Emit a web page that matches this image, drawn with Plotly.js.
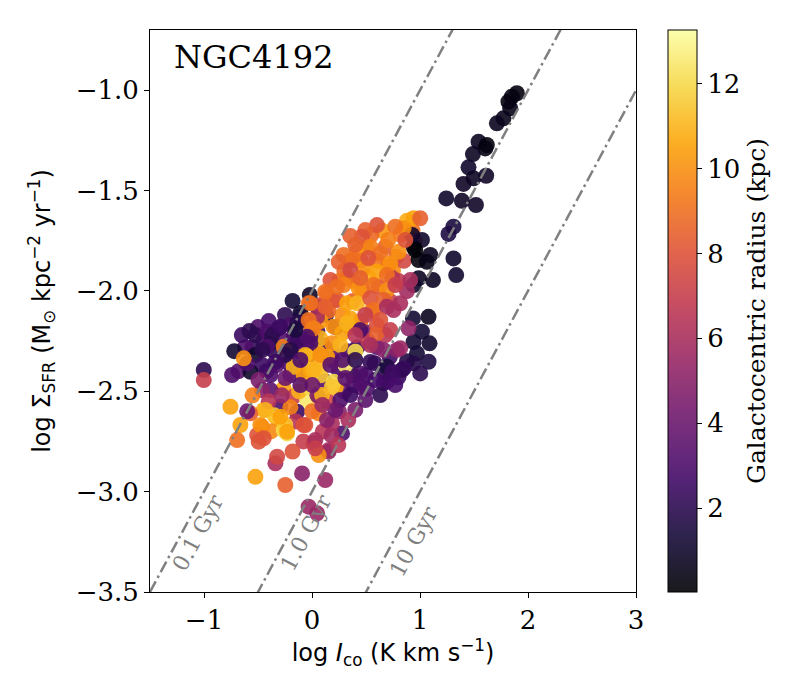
<!DOCTYPE html>
<html>
<head>
<meta charset="utf-8">
<script src="https://cdn.plot.ly/plotly-3.0.1.min.js"></script>
<style>body{margin:0;padding:0;background:#fff;} #chart{width:800px;height:700px;}</style>
</head>
<body>
<div id="chart"></div>
<script>
// ---- data ----
const logIco = [
-0.45,-0.35,-0.28,-0.22,-0.12,-0.05,0.02,0.10,0.18,0.25,0.33,0.42,0.50,0.58,0.66,0.72,0.80,0.88,0.60,0.48,
-0.50,-0.40,-0.25,-0.33,-0.42,-0.55,-0.62,-0.68,-0.20,-0.10,0.12,0.20,0.38,0.45,0.30,0.05,-0.05,0.13,0.22,-0.18,
-0.02,0.05,-0.65,-0.72,-0.58,
0.30,0.38,0.45,0.52,0.60,0.68,0.75,0.82,0.88,0.93,0.78,0.65,0.55,0.42,0.35,0.25,0.20,0.28,0.38,0.47,
0.55,0.62,0.72,0.80,0.85,0.45,0.15,0.08,0.50,0.70,0.95,0.60,0.35,0.52,0.68,
1.897,1.851,1.819,1.835,1.773,1.712,1.542,1.619,1.604,1.490,1.449,1.495,1.403,1.613,1.243,1.388,1.518,1.310,1.264,1.018,
0.940,1.095,0.987,1.064,1.310,1.335,1.120,0.987,0.940,0.935,1.079,1.018,0.940,1.088,0.972,1.079,0.940,1.002,0.848,0.694,
0.833,0.694,0.663,0.894,0.787,0.817,0.278,0.154,0.910,0.879,0.926,0.956,0.743,
0.940,1.002,0.848,0.771,0.602,0.494,0.463,0.540,0.632,0.802,0.725,0.293,0.247,0.385,0.478,0.602,0.694,0.324,0.293,0.432,
0.570,0.694,0.139,0.232,0.324,0.417,0.540,0.663,-0.031,0.570,0.694,0.755,0.817,0.355,0.200,0.278,0.324,0.602,0.077,0.000,
0.185,0.262,0.401,0.062,0.447,-0.108,-0.015,0.663,0.401,0.706,0.864,0.521,0.355,0.771,0.447,0.170,0.077,0.494,0.632,0.401,
0.540,0.725,0.355,
-0.524,-0.416,-0.309,-0.200,-0.108,-0.385,-0.524,-0.462,-0.570,-0.601,-0.740,-0.632,-0.262,-0.170,-0.108,-0.015,-0.031,0.047,
-0.046,-0.170,-0.015,0.062,0.139,-0.262,-0.385,-0.462,-0.170,-0.046,0.062,-0.293,-0.447,-0.570,-0.755,-0.663,-0.462,-0.693,
-0.508,-0.494,-0.262,-0.231,-0.323,-0.138,-0.062,0.062,-1.002,-1.002,-0.370,-0.293,-0.138,-0.015,-0.031,0.015,0.123,0.123,
0.232,-0.416,-0.138,-0.046,-0.154,-0.062,0.077,
-0.40,-0.35,-0.20,-0.12,-0.02,0.08,0.15,0.22,-0.28,-0.15,0.00,0.10,-0.08,-0.55,-0.60,-0.38,0.25,0.18,-0.18,0.05,
-0.524,-0.339,-0.323,-0.247,-0.092,0.123,-0.031,0.047,0.015,0.154,0.062,-0.262,-0.478,0.309,0.200,0.185,0.093,-0.077,0.015,
-0.432,-0.247,-0.293,-0.077,-0.231,0.185,0.031,0.031,-0.447,0.385,0.447,0.509,0.262,0.139,0.355,0.586,0.743,0.540,0.309,
0.216,0.401,0.494,0.281,0.632,0.771,0.170,0.003,-0.108,0.096,0.336,0.244,0.401,-0.247,-0.339,-0.200,-0.459,-0.108,-0.385,
-0.247,-0.496
];
const logSigmaSFR = [
-2.25,-2.30,-2.24,-2.36,-2.30,-2.36,-2.30,-2.27,-2.30,-2.40,-2.30,-2.28,-2.42,-2.36,-2.40,-2.33,-2.43,-2.35,-2.28,-2.20,
-2.18,-2.15,-2.12,-2.37,-2.40,-2.28,-2.28,-2.40,-2.42,-2.40,-2.45,-2.35,-2.42,-2.48,-2.50,-2.20,-2.15,-2.12,-2.18,-2.05,
-2.02,-2.08,-2.22,-2.30,-2.20,
-1.90,-1.95,-1.85,-1.93,-1.85,-1.78,-1.90,-1.72,-1.65,-1.70,-1.83,-1.70,-1.72,-1.80,-1.85,-1.95,-2.05,-2.12,-2.05,-2.00,
-2.10,-1.98,-2.05,-1.95,-1.85,-2.15,-2.10,-2.15,-1.78,-1.88,-1.75,-2.17,-2.18,-2.25,-2.22,
-1.015,-1.032,-1.057,-1.090,-1.140,-1.165,-1.257,-1.273,-1.290,-1.318,-1.384,-1.439,-1.467,-1.426,-1.539,-1.551,-1.572,-1.680,-1.716,-1.746,
-1.780,-1.821,-1.846,-1.855,-1.838,-1.921,-1.946,-1.937,-1.971,-2.137,-2.129,-2.203,-2.254,-2.261,-2.311,-2.353,-2.361,-2.411,-2.386,-2.452,
-2.394,-2.378,-2.460,-2.186,-2.294,-2.286,-2.710,-2.793,-1.946,-2.001,-1.721,-1.796,-1.936,
-1.638,-1.638,-1.688,-1.680,-1.672,-1.697,-1.730,-1.780,-1.813,-1.805,-1.862,-1.821,-1.855,-1.846,-1.887,-1.904,-1.921,-1.937,-1.971,-1.987,
-1.971,-1.996,-2.012,-2.045,-2.062,-2.062,-2.037,-2.045,-2.062,-2.095,-2.079,-2.095,-2.062,-2.137,-2.178,-2.211,-2.161,-2.211,-2.236,-2.170,
-2.261,-2.270,-2.303,-2.311,-2.195,-2.110,-2.228,-2.294,-1.771,-1.746,-1.746,-1.836,-1.896,-1.971,-1.936,-1.946,-2.070,-2.120,-2.145,-2.220,
-2.270,-2.195,-1.726,
-2.220,-2.203,-2.186,-2.170,-2.129,-2.261,-2.319,-2.369,-2.403,-2.361,-2.419,-2.336,-2.278,-2.228,-2.278,-2.261,-2.161,-2.129,
-2.328,-2.378,-2.394,-2.378,-2.328,-2.486,-2.494,-2.494,-2.527,-2.544,-2.527,-2.577,-2.593,-2.610,-2.577,-2.668,-2.677,-2.743,
-2.718,-2.751,-2.668,-2.710,-2.635,-2.602,-2.668,-2.610,-2.394,-2.444,-2.220,-2.178,-2.161,-2.062,-2.145,-2.186,-2.004,-2.079,
-1.979,-2.278,-2.245,-2.228,-2.195,-2.319,-2.319,
-2.55,-2.62,-2.58,-2.50,-2.48,-2.42,-2.55,-2.48,-2.52,-2.65,-2.60,-2.70,-2.75,-2.52,-2.60,-2.70,-2.60,-2.72,-2.80,-2.52,
-2.926,-2.859,-2.826,-2.967,-2.909,-2.942,-3.075,-3.108,-2.759,-2.801,-2.818,-2.693,-2.668,-2.369,-2.452,-2.477,-2.519,-2.419,-2.394,
-2.593,-2.668,-2.627,-2.668,-2.702,-2.660,-2.743,-2.784,-2.734,-2.469,-2.411,-2.486,-2.544,-2.643,-2.519,-2.444,-2.404,-2.354,-2.434,
-2.593,-2.593,-2.544,-2.344,-2.519,-2.469,-2.369,-2.469,-2.469,-2.568,-2.643,-2.768,-2.344,-2.319,-2.354,-2.294,-2.294,-2.344,-2.419,
-2.434,-2.444
];
const radius = [
2.8,2.2,3.2,2.6,3.4,2.9,3.1,2.4,3.6,2.7,3.0,2.5,2.9,2.3,1.9,2.6,2.4,1.7,3.8,4.2,
3.0,2.7,2.0,3.3,2.4,2.2,3.1,3.3,3.0,4.0,3.3,4.5,2.0,3.2,3.8,2.5,1.2,1.8,2.2,1.3,
0.9,1.5,2.5,1.2,2.0,
8.8,9.6,8.2,10.8,9.2,8.6,9.8,9.4,10.8,9.0,8.4,10.2,8.8,9.4,8.0,9.2,8.6,9.8,8.4,9.0,
10.2,7.8,7.2,6.8,7.5,9.5,8.8,10.2,10.4,9.0,7.5,7.8,9.2,7.0,6.5,
0.3,0.4,0.3,0.5,0.6,0.7,0.8,0.3,0.4,0.8,1.0,0.8,0.9,0.9,1.0,0.9,0.9,1.5,1.6,1.0,
0.8,0.7,0.2,0.5,1.0,1.1,0.8,0.8,1.0,1.2,0.7,1.3,1.2,1.1,1.3,1.6,1.8,2.0,2.5,3.0,
2.2,1.5,2.5,5.2,5.0,5.5,3.0,6.0,6.0,5.8,1.0,0.1,6.5,
10.5,8.5,10,9,8,8.5,8,9.5,9,10,10,9,8.5,9,10,10.5,9,9,9.5,10,
9,10,9,8,10.5,11,8,8.5,9,9,6,6,6,10.5,10,10.5,11,8.5,11,9,
10,11,12,11,3,1,3,5,8.5,9.5,8,8,7.5,7,8.5,8,7.5,7,8,6.5,
6,7,8.5,
2,3,2.5,3,1.5,1.5,1,2.5,1,3,3,10,9.5,3,3,3,9,6,
10.5,11,11.5,11,10.5,10.5,3.5,5,7,12.5,10,3,11,8.5,10.5,10.5,9.5,9,
8,8,12,12,10.5,2.5,8,9.5,2,7,2,2.5,2,9,9,9.5,9,8.5,
9,3,2.5,3,1.5,11,10,
6.5,11.5,9.5,11.0,12.0,11.5,7.5,10.8,5.5,6.5,9.0,6.5,7.0,9.5,4.0,9.8,5.0,5.8,8.0,4.5,
10.5,6,7.5,8.5,5,5.5,5.5,5.5,7,5.5,10,12,10,12.5,12,11.5,11,10.5,11,
11,11.5,10.5,8,10.5,6,6,7,8,3,3,3,3,5,2.5,2.8,2.5,2.2,3.5,
4,4.5,3.5,3.2,2,2.8,3.5,4,3.5,5.5,6,6.5,2,2,2.5,1.8,2,3,3,
4,4.5
];
const depletionGyr = [0.1, 1.0, 10];
const depletionLabels = ['0.1 Gyr', '1.0 Gyr', '10 Gyr'];
const labelLogIco = [-1.051, -0.052, 0.938];
const labelLogSigma = [-3.206, -3.206, -3.246];
const xTickVals = [-1, 0, 1, 2, 3];
const xTickText = ['\u22121', '0', '1', '2', '3'];
const yTickVals = [-1.0, -1.5, -2.0, -2.5, -3.0, -3.5];
const yTickText = ['\u22121.0', '\u22121.5', '\u22122.0', '\u22122.5', '\u22123.0', '\u22123.5'];
const cbTickVals = [2, 4, 6, 8, 10, 12];
const galaxyName = 'NGC4192';

// ---- inferno colour scale (alpha 0.9) ----
const infernoStops = [
  [0.0,'0,0,4'],[0.1,'22,11,57'],[0.2,'66,10,104'],[0.3,'106,23,110'],[0.4,'147,38,103'],
  [0.5,'188,55,84'],[0.6,'221,81,58'],[0.7,'243,120,25'],[0.8,'252,165,10'],[0.9,'246,215,70'],[1.0,'252,255,164']
];
const inferno = infernoStops.map(s => [s[0], 'rgba(' + s[1] + ',0.9)']);

const serif = 'DejaVu Serif, Liberation Serif, serif';
const sans = 'DejaVu Sans, Liberation Sans, sans-serif';

const traces = [{
  type: 'scatter', mode: 'markers',
  x: logIco, y: logSigmaSFR,
  marker: {
    size: 16, color: radius, colorscale: inferno, cmin: 0.02, cmax: 13.27,
    line: {width: 0},
    colorbar: {
      x: 1.066, xanchor: 'left', y: 0.5, yanchor: 'middle', len: 1, lenmode: 'fraction',
      thickness: 29, thicknessmode: 'pixels',
      outlinewidth: 1, outlinecolor: '#000',
      tickvals: cbTickVals, ticks: 'outside', ticklen: 5, tickwidth: 1, tickcolor: '#000',
      tickfont: {family: serif, size: 26, color: '#000'},
      title: {text: 'Galactocentric radius (kpc)', side: 'right', font: {family: serif, size: 25, color: '#000'}},
      xpad: 0, ypad: 0
    }
  },
  hoverinfo: 'skip', showlegend: false
}];

const xLine = [-1.5, 3];
depletionGyr.forEach(t => {
  const c = -3 - Math.log10(t);
  traces.push({
    type: 'scatter', mode: 'lines',
    x: xLine, y: xLine.map(v => v + c),
    line: {color: '#808080', width: 2.5, dash: '12px,4px,2.5px,4px'},
    hoverinfo: 'skip', showlegend: false
  });
});

const annotations = depletionLabels.map((txt, i) => ({
  x: labelLogIco[i], y: labelLogSigma[i], xref: 'x', yref: 'y',
  text: txt, showarrow: false, textangle: -61.7,
  font: {family: serif, size: 22, color: '#808080'},
  xanchor: 'center', yanchor: 'middle'
}));
annotations.push({
  x: 0.046, y: 0.952, xref: 'paper', yref: 'paper', text: galaxyName, showarrow: false,
  xanchor: 'left', yanchor: 'middle', font: {family: serif, size: 32, color: '#000'}
});

const layout = {
  width: 800, height: 700, autosize: false,
  margin: {l: 150, r: 164, t: 30, b: 108, pad: 0},
  paper_bgcolor: '#fff', plot_bgcolor: '#fff',
  showlegend: false,
  xaxis: {
    range: [-1.5, 3], tickvals: xTickVals, ticktext: xTickText,
    ticks: 'outside', ticklen: 5, tickwidth: 1, tickcolor: '#000',
    showline: true, linecolor: '#000', linewidth: 1, mirror: true,
    showgrid: false, zeroline: false,
    tickfont: {family: serif, size: 26, color: '#000'},
    title: {text: 'log <i>I</i><sub>co</sub> (K km s<sup>\u22121</sup>)', font: {family: sans, size: 24, color: '#000'}, standoff: 8}
  },
  yaxis: {
    range: [-3.5, -0.7], tickvals: yTickVals, ticktext: yTickText,
    ticks: 'outside', ticklen: 5, tickwidth: 1, tickcolor: '#000',
    showline: true, linecolor: '#000', linewidth: 1, mirror: true,
    showgrid: false, zeroline: false,
    tickfont: {family: serif, size: 26, color: '#000'},
    title: {text: 'log \u03A3<sub>SFR</sub> (M<sub>\u2299</sub> kpc<sup>\u22122</sup> yr<sup>\u22121</sup>)', font: {family: sans, size: 24, color: '#000'}, standoff: 18}
  },
  annotations: annotations
};

Plotly.newPlot('chart', traces, layout, {displayModeBar: false, staticPlot: true});
</script>
</body>
</html>
